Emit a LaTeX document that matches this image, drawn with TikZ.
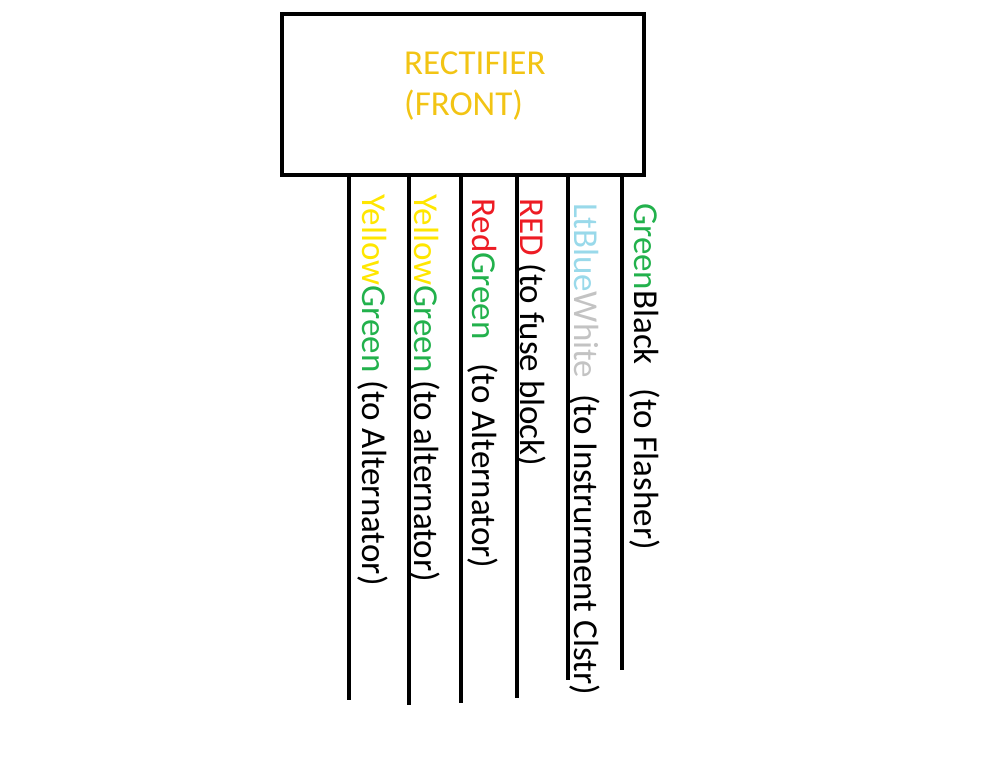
\documentclass[tikz,border=0pt]{standalone}
\usepackage{fontspec}
\setmainfont{Carlito}
\definecolor{gold}{RGB}{242,196,20}
\definecolor{ylw}{RGB}{255,230,0}
\definecolor{grn}{RGB}{34,177,76}
\definecolor{rd}{RGB}{237,28,36}
\definecolor{ltb}{RGB}{153,217,234}
\definecolor{gry}{RGB}{195,195,195}
\begin{document}
\begin{tikzpicture}[x=1pt,y=-1pt,
  wire/.style={line width=4pt},
  lbl/.style={rotate=-90,anchor=west,inner sep=0pt,font=\fontsize{35}{38}\selectfont}]
\useasboundingbox (0,0) rectangle (1008,756);
\node[draw,line width=4pt,minimum width=362pt,minimum height=161pt,anchor=north west] (box) at (280,12) {};
\node[anchor=west,text=gold,font=\fontsize{35}{38}\selectfont,inner sep=0pt] (t1) at (404,63) {RECTIFIER};
\node[anchor=west,text=gold,font=\fontsize{35}{38}\selectfont,inner sep=0pt] (t2) at (404,105) {(FRONT)};
\foreach \n/\x/\e in {a/349/700,b/409/705,c/461/703,d/517/698,e/568/680,f/622/670}{
  \coordinate (\n1) at (\x,173);
  \coordinate (\n2) at (\x,\e);
  \draw[wire] (\n1) -- (\n2);
}
\node[lbl] (la) at (373,194) {\textcolor{ylw}{Yellow}\textcolor{grn}{Green} (to Alternator)};
\node[lbl] (lb) at (425,194) {\textcolor{ylw}{Yellow}\textcolor{grn}{Green} (to alternator)};
\node[lbl] (lc) at (483,198) {\textcolor{rd}{Red}\textcolor{grn}{Green}\ \ \ (to Alternator)};
\node[lbl] (ld) at (531,198) {\textcolor{rd}{RED} (to fuse block)};
\node[lbl] (le) at (585,203) {\textcolor{ltb}{LtBlue}\textcolor{gry}{White}\ \ (to Instrurment Clstr)};
\node[lbl] (lf) at (645,203) {\textcolor{grn}{Green}Black\ \ \ (to Flasher)};
\end{tikzpicture}
\end{document}
